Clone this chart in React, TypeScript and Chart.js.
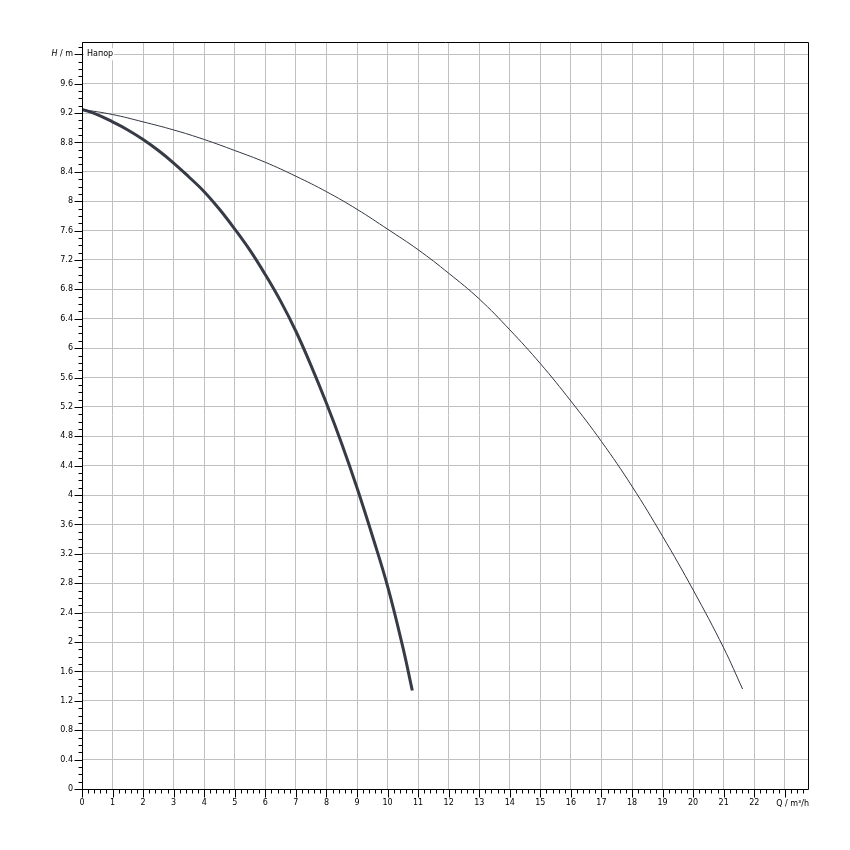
import React, { useEffect, useRef } from 'react';
import { Chart, registerables } from 'chart.js';

Chart.register(...registerables);

// Steep (thick) curve: Q in m³/h, H in m
const steepQ = [0, 0.5, 1, 1.5, 2, 2.5, 3, 3.5, 4, 4.5, 5, 5.5, 6, 6.5, 7, 7.5, 8, 8.5, 9, 9.5, 10, 10.5, 10.81];
const steepH = [9.25, 9.18, 9.08, 8.97, 8.84, 8.69, 8.52, 8.33, 8.13, 7.89, 7.62, 7.33, 7.0, 6.64, 6.23, 5.76, 5.25, 4.7, 4.1, 3.45, 2.76, 1.93, 1.34];

// Flat (thin) curve
const flatQ = [0, 1, 2, 3, 4, 5, 6, 7, 8, 9, 10, 11, 12, 13, 14, 15, 16, 17, 18, 19, 20, 21, 21.62];
const flatH = [9.25, 9.18, 9.08, 8.97, 8.84, 8.69, 8.53, 8.34, 8.13, 7.89, 7.62, 7.34, 7.02, 6.67, 6.25, 5.79, 5.28, 4.73, 4.12, 3.44, 2.71, 1.92, 1.36];

// Axis ticks (the last tick of each axis carries the axis title instead of a number)
const qTicks = [0, 1, 2, 3, 4, 5, 6, 7, 8, 9, 10, 11, 12, 13, 14, 15, 16, 17, 18, 19, 20, 21, 22, 23];
const qLabels = ['0', '1', '2', '3', '4', '5', '6', '7', '8', '9', '10', '11', '12', '13', '14', '15', '16', '17', '18', '19', '20', '21', '22', ''];
const hTicks = [0, 0.4, 0.8, 1.2, 1.6, 2, 2.4, 2.8, 3.2, 3.6, 4, 4.4, 4.8, 5.2, 5.6, 6, 6.4, 6.8, 7.2, 7.6, 8, 8.4, 8.8, 9.2, 9.6, 10];
const hLabels = ['0', '0.4', '0.8', '1.2', '1.6', '2', '2.4', '2.8', '3.2', '3.6', '4', '4.4', '4.8', '5.2', '5.6', '6', '6.4', '6.8', '7.2', '7.6', '8', '8.4', '8.8', '9.2', '9.6', ''];

const Q_MAX = 23.76;
const H_MAX = 10.167;
const curveTitle = 'Напор';
const FONT = 'DejaVu Sans';

const decor = {
  id: 'decor',
  afterDraw(chart: any) {
    const { ctx, chartArea: a, scales } = chart;
    const xs = scales.x;
    const ys = scales.y;
    const L = Math.round(a.left);
    const R = Math.round(a.right);
    const T = Math.round(a.top);
    const B = Math.round(a.bottom);
    ctx.save();
    ctx.strokeStyle = '#000';
    ctx.lineWidth = 1;
    ctx.beginPath();
    ctx.rect(L + 0.5, T + 0.5, R - L, B - T);
    // y minor / major ticks every 0.1
    for (let k = 0; k <= 101; k++) {
      const py = Math.round(ys.getPixelForValue(k / 10)) + 0.5;
      const len = k % 4 === 0 ? 8 : 4;
      ctx.moveTo(L + 0.5, py);
      ctx.lineTo(L + 0.5 - len, py);
    }
    // x minor / major ticks every 0.2
    for (let k = 0; k <= 118; k++) {
      const px = Math.round(xs.getPixelForValue(k / 5)) + 0.5;
      const len = k % 5 === 0 ? 8 : 4;
      ctx.moveTo(px, B + 0.5);
      ctx.lineTo(px, B + 0.5 + len);
    }
    ctx.stroke();

    // Axis titles
    ctx.fillStyle = '#000';
    ctx.textBaseline = 'middle';
    const hy = ys.getPixelForValue(10);
    ctx.font = `8px ${FONT}`;
    const rest = ' / m';
    const wRest = ctx.measureText(rest).width;
    ctx.textAlign = 'right';
    ctx.fillText(rest, 73, hy);
    ctx.font = `italic 8px ${FONT}`;
    ctx.fillText('H', 73 - wRest, hy);

    ctx.font = `8px ${FONT}`;
    ctx.textAlign = 'right';
    ctx.fillText('Q / m³/h', R + 1, 804);

    // Curve title inside the plot
    ctx.font = `8px ${FONT}`;
    ctx.textAlign = 'left';
    const tw = ctx.measureText(curveTitle).width;
    ctx.fillStyle = '#fff';
    ctx.fillRect(L + 2, hy - 6, tw + 4, 12);
    ctx.fillStyle = '#000';
    ctx.fillText(curveTitle, L + 5, hy - 0.5);
    ctx.restore();
  },
};

export default function App() {
  const ref = useRef<HTMLCanvasElement | null>(null);
  useEffect(() => {
    if (!ref.current) return;
    const chart = new Chart(ref.current, {
      type: 'line',
      data: {
        datasets: [
          {
            label: 'flat',
            data: flatQ.map((q, i) => ({ x: q, y: flatH[i] })),
            borderColor: '#303642',
            borderWidth: 1,
            pointRadius: 0,
            tension: 0.4,
            fill: false,
          },
          {
            label: 'steep',
            data: steepQ.map((q, i) => ({ x: q, y: steepH[i] })),
            borderColor: '#363b46',
            borderWidth: 3,
            pointRadius: 0,
            tension: 0.4,
            fill: false,
          },
        ],
      },
      options: {
        animation: false,
        responsive: false,
        events: [],
        layout: { padding: { top: 42, right: 42, left: 0, bottom: 0 } },
        plugins: { legend: { display: false }, tooltip: { enabled: false }, title: { display: false } },
        scales: {
          x: {
            type: 'linear',
            min: 0,
            max: Q_MAX,
            afterBuildTicks: (s: any) => {
              s.ticks = qTicks.map((v) => ({ value: v }));
            },
            afterFit: (s: any) => {
              s.height = 61;
            },
            ticks: {
              autoSkip: false,
              maxRotation: 0,
              padding: 9,
              color: '#000',
              font: { family: FONT, size: 8 },
              callback: (_v: any, i: number) => qLabels[i],
            },
            grid: { color: '#c0c0c0', lineWidth: 1, drawTicks: false },
            border: { display: false },
          },
          y: {
            type: 'linear',
            min: 0,
            max: H_MAX,
            afterBuildTicks: (s: any) => {
              s.ticks = hTicks.map((v) => ({ value: v }));
            },
            afterFit: (s: any) => {
              s.width = 82;
            },
            ticks: {
              autoSkip: false,
              padding: 9,
              color: '#000',
              font: { family: FONT, size: 8 },
              callback: (_v: any, i: number) => hLabels[i],
            },
            grid: { color: '#c0c0c0', lineWidth: 1, drawTicks: false },
            border: { display: false },
          },
        },
      },
      plugins: [decor],
    });
    return () => chart.destroy();
  }, []);
  return (
    <div style={{ position: 'fixed', left: 0, top: 0, width: 850, height: 850, background: '#fff' }}>
      <canvas ref={ref} width={850} height={850} />
    </div>
  );
}
